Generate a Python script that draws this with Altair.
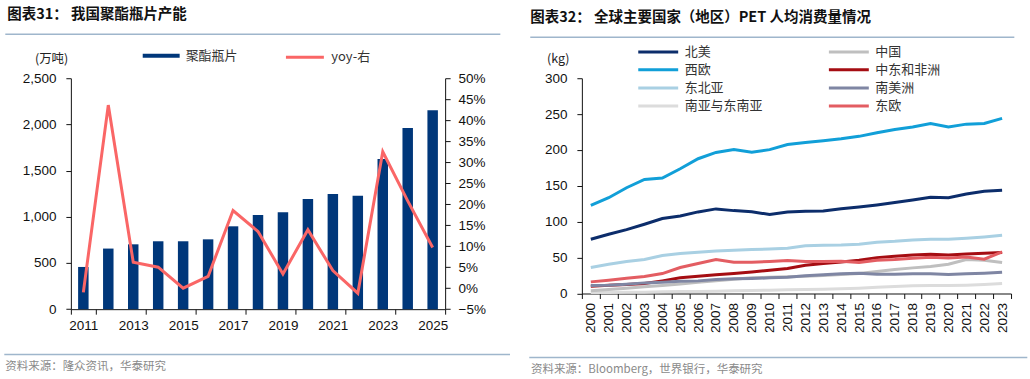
import altair as alt
import pandas as pd

# ---------------- data: left chart ----------------
years_left = list(range(2011, 2026))
capacity = [457, 656, 702, 735, 735, 756, 897, 1019, 1048, 1193, 1247, 1228, 1625, 1960, 2154]
yoy_pct = [-1.0, 43.6, 6.2, 5.0, 0.0, 2.8, 18.5, 13.5, 3.4, 13.9, 4.2, -1.2, 32.5, 20.8, 9.7]

bar_name = "聚酯瓶片"
line_name = "yoy-右"

# ---------------- data: right chart ----------------
years_right = list(range(2000, 2024))
north_america = [75.6, 82.6, 89.0, 96.5, 104.4, 108.0, 113.7, 117.9, 115.5, 114.0, 110.0, 113.7,
                 114.6, 115.0, 118.0, 120.6, 123.4, 126.7, 130.4, 134.0, 133.6, 138.7, 142.4, 143.8]
west_europe = [122.9, 133.5, 147.4, 159.0, 160.9, 173.9, 187.8, 196.6, 200.7, 197.0, 200.5, 207.7,
               210.5, 213.0, 215.6, 219.0, 224.0, 228.5, 232.0, 237.0, 232.0, 236.0, 237.0, 244.0]
ne_asia = [36.2, 40.8, 44.5, 47.3, 52.9, 55.6, 57.5, 59.3, 60.3, 61.2, 62.1, 63.0,
           66.4, 67.3, 67.7, 68.7, 71.5, 72.8, 74.7, 75.6, 75.6, 77.0, 78.9, 81.2]
s_se_asia = [1.4, 1.4, 1.9, 1.9, 2.3, 2.8, 2.8, 3.2, 3.7, 4.2, 4.6, 5.1,
             5.6, 6.0, 6.5, 7.4, 8.8, 9.7, 10.7, 11.1, 11.1, 11.6, 12.5, 13.9]
china = [3.7, 5.6, 7.4, 9.3, 11.1, 13.4, 15.8, 17.6, 19.9, 21.8, 22.7, 23.2,
         24.1, 25.0, 26.4, 27.8, 30.6, 33.4, 35.7, 37.6, 40.8, 47.3, 46.4, 43.1]
mea = [10.2, 11.6, 12.5, 13.9, 17.6, 21.8, 24.1, 26.0, 27.8, 30.1, 32.5, 34.8,
       39.4, 41.7, 44.0, 46.4, 50.0, 52.0, 53.8, 54.7, 53.8, 55.2, 56.0, 57.0]
s_america = [11.1, 11.6, 13.0, 14.8, 15.8, 17.2, 17.6, 19.5, 20.4, 20.9, 21.8, 22.7,
             24.6, 26.0, 27.4, 28.3, 26.9, 26.9, 27.4, 27.4, 26.4, 27.4, 28.3, 29.7]
east_europe = [16.2, 18.6, 21.3, 23.7, 27.8, 36.2, 41.8, 47.3, 43.6, 43.6, 44.5, 45.9,
               44.5, 44.5, 45.0, 43.1, 46.4, 47.3, 49.2, 50.5, 49.6, 51.0, 47.8, 58.0]

# legend order (filled column by column: left column first, then right column)
region_names = ["北美", "西欧", "东北亚", "南亚与东南亚", "中国", "中东和非洲", "南美洲", "东欧"]
region_values = [north_america, west_europe, ne_asia, s_se_asia, china, mea, s_america, east_europe]
region_colors = ["#0c2d6b", "#119fd8", "#a9d0e3", "#dcdcdc", "#bfbfbf", "#a50d12", "#7f86a3", "#e35d62"]
draw_order = ["南亚与东南亚", "中国", "南美洲", "中东和非洲", "东欧", "东北亚", "北美", "西欧"]

title_left = "图表31：  我国聚酯瓶片产能"
title_right = "图表32：  全球主要国家（地区）PET 人均消费量情况"
source_left = "资料来源：隆众资讯，华泰研究"
source_right = "资料来源：Bloomberg，世界银行，华泰研究"
unit_left = "(万吨)"
unit_right = "(kg)"

NUM_FONT = "Liberation Sans"
CJK_FONT = "Noto Sans CJK SC"
RULE_COLOR = "#9fb6cc"

# ---------------- tables ----------------
df_left = pd.DataFrame({
    "year": years_left,
    "cap": capacity,
    "yoy": [v / 100 for v in yoy_pct],
    "bar_s": [bar_name] * len(years_left),
    "line_s": [line_name] * len(years_left),
})

rows = []
for name, vals in zip(region_names, region_values):
    for y, v in zip(years_right, vals):
        rows.append({"year": y, "value": v, "region": name, "order": draw_order.index(name)})
df_right = pd.DataFrame(rows)


def deco(w_left, h_top, total_w, total_h, title, t_xy, ul, fl, source, s_xy, unit, u_xy):
    """Decorations placed relative to the plot origin."""
    one = pd.DataFrame({"t": [title]})
    frame = alt.Chart(one).mark_rect(fillOpacity=0, strokeOpacity=0).encode(
        x=alt.value(-w_left), x2=alt.value(total_w - w_left),
        y=alt.value(-h_top), y2=alt.value(total_h - h_top))
    ttl = alt.Chart(one).mark_text(align="left", baseline="middle", font=CJK_FONT,
                                   fontSize=14.5, fontWeight="bold", color="#111111").encode(
        x=alt.value(t_xy[0]), y=alt.value(t_xy[1]), text="t:N")
    under = alt.Chart(one).mark_rule(color=RULE_COLOR, strokeWidth=1.5).encode(
        x=alt.value(ul[0]), x2=alt.value(ul[1]), y=alt.value(ul[2]))
    foot = alt.Chart(one).mark_rule(color=RULE_COLOR, strokeWidth=1.5).encode(
        x=alt.value(fl[0]), x2=alt.value(fl[1]), y=alt.value(fl[2]))
    src = alt.Chart(pd.DataFrame({"t": [source]})).mark_text(
        align="left", baseline="middle", font=CJK_FONT, fontSize=11.5, color="#8a8a8a").encode(
        x=alt.value(s_xy[0]), y=alt.value(s_xy[1]), text="t:N")
    un = alt.Chart(pd.DataFrame({"t": [unit]})).mark_text(
        align="left", baseline="middle", font=CJK_FONT, fontSize=12.5, color="#222222").encode(
        x=alt.value(u_xy[0]), y=alt.value(u_xy[1]), text="t:N")
    return [frame, ttl, under, foot, src, un]


# ---------------- left chart ----------------
LW, LH = 375, 231.4
LX0, LY0 = 70.7, 77.3

x_left = alt.X("year:O", scale=alt.Scale(paddingInner=0, paddingOuter=0),
               axis=alt.Axis(title=None, values=[y for y in years_left if y % 2 == 1],
                             tickBand="extent", labelAngle=0, labelFont=NUM_FONT,
                             labelFontSize=13.5, labelColor="#111111", domainColor="#111111",
                             tickColor="#111111", tickSize=5, labelPadding=4,
                             domainWidth=1))

bars = alt.Chart(df_left).mark_bar(size=10.5).encode(
    x=x_left,
    y=alt.Y("cap:Q", scale=alt.Scale(domain=[0, 2500]),
            axis=alt.Axis(title=None, values=[0, 500, 1000, 1500, 2000, 2500], format=",d",
                          labelFont=NUM_FONT, labelFontSize=13.5, labelColor="#111111",
                          domainColor="#111111", tickColor="#111111", tickSize=5,
                          labelPadding=10, grid=False)),
    fill=alt.Fill("bar_s:N", scale=alt.Scale(domain=[bar_name], range=["#00377a"]),
                  legend=alt.Legend(title=None, orient="none", legendX=72, legendY=-41,
                                    symbolType="M-1,-0.11H1V0.11H-1Z", symbolSize=1369,
                                    symbolStrokeWidth=0, labelFont=CJK_FONT, labelFontSize=13,
                                    labelColor="#333333", labelOffset=6, padding=0)),
)

line = alt.Chart(df_left).mark_line(strokeWidth=3).encode(
    x=x_left,
    y=alt.Y("yoy:Q", scale=alt.Scale(domain=[-0.05, 0.5]),
            axis=alt.Axis(title=None, orient="right",
                          values=[-0.05, 0, 0.05, 0.1, 0.15, 0.2, 0.25, 0.3, 0.35, 0.4, 0.45, 0.5],
                          format=".0%", labelFont=NUM_FONT, labelFontSize=13.5,
                          labelColor="#111111", domainColor="#111111", tickColor="#111111",
                          tickSize=5, labelPadding=8, grid=False)),
    stroke=alt.Stroke("line_s:N", scale=alt.Scale(domain=[line_name], range=["#fa6666"]),
                      legend=alt.Legend(title=None, orient="none", legendX=214, legendY=-41.5,
                                        symbolType="stroke", symbolSize=1444,
                                        symbolStrokeWidth=3, labelFont=CJK_FONT,
                                        labelFontSize=13, labelColor="#333333",
                                        labelOffset=6, padding=0)),
)

left_deco = deco(LX0, LY0, 515, 379, title_left, (-63.7, -63.8),
                 (-65.7, 430.3, -44), (-66.7, 440, 276.7),
                 source_left, (-65.7, 289.4), unit_left, (-36, -19))

left = alt.layer(bars, line, *left_deco).resolve_scale(y="independent").properties(
    width=LW, height=LH)

# ---------------- right chart ----------------
RW, RH = 430, 215.7
RX0, RY0 = 581.7, 74.3

lines_r = alt.Chart(df_right).mark_line(strokeWidth=3).encode(
    x=alt.X("year:O", scale=alt.Scale(paddingInner=0, paddingOuter=0),
            axis=alt.Axis(title=None, labelAngle=270, tickBand="extent", labelFont=NUM_FONT,
                          labelFontSize=13.5, labelColor="#111111", domainColor="#111111",
                          tickColor="#111111", tickSize=5, labelPadding=4)),
    y=alt.Y("value:Q", scale=alt.Scale(domain=[0, 300]),
            axis=alt.Axis(title=None, values=[0, 50, 100, 150, 200, 250, 300],
                          labelFont=NUM_FONT, labelFontSize=13.5, labelColor="#111111",
                          domainColor="#111111", tickColor="#111111", tickSize=5,
                          labelPadding=10, grid=False)),
    color=alt.Color("region:N", sort=region_names,
                    scale=alt.Scale(domain=region_names, range=region_colors),
                    legend=alt.Legend(title=None, orient="none", legendX=70, legendY=-33,
                                      columns=2, columnPadding=59, rowPadding=4.1,
                                      symbolType="M-4,0H4", symbolSize=100,
                                      symbolStrokeWidth=3, labelFont=CJK_FONT,
                                      labelFontSize=13, labelColor="#333333",
                                      labelOffset=20, padding=0)),
    order=alt.Order("order:Q"),
    detail="region:N",
)

right_deco = deco(RX0 - 515, RY0, 515, 379, title_right, (-51.7, -60.8),
                  (-51.7, 433.3, -41), (-52.7, 446.3, 279.7),
                  source_right, (-51, 292.4), unit_right, (-35, -19.5))

right = alt.layer(lines_r, *right_deco).properties(width=RW, height=RH)

chart = alt.hconcat(left, right, spacing=0).resolve_scale(
    color="independent", fill="independent", stroke="independent"
).resolve_legend(color="independent", fill="independent", stroke="independent").properties(
    padding=0, background="white"
).configure_view(stroke=None)

chart.save("out.html", embed_options={"renderer": "svg", "actions": False})
